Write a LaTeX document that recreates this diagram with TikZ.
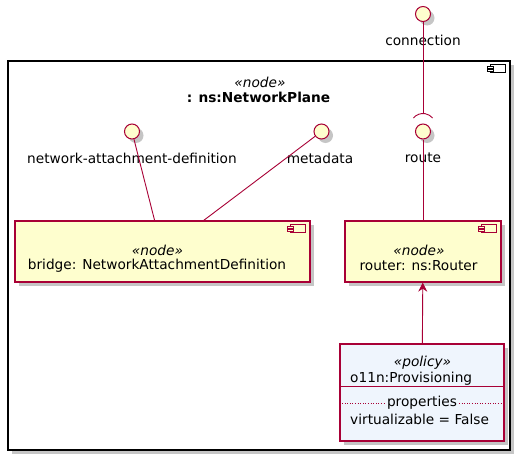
\documentclass[tikz,border=0pt]{standalone}
\usepackage{fontspec}
\setmainfont{DejaVu Sans}
\usetikzlibrary{calc,shadows,arrows.meta}
\definecolor{umlred}{HTML}{A80036}
\definecolor{umlyellow}{HTML}{FEFECE}
\definecolor{umlblue}{HTML}{EFF5FD}
% component icon, hooked to the top right corner of a box
\def\compicon[#1](#2){%
  \draw[#1] ($(#2)+(-20,4)$) rectangle ($(#2)+(-5,12)$);
  \draw[#1] ($(#2)+(-23,6)$) rectangle ($(#2)+(-17,8)$);
  \draw[#1] ($(#2)+(-23,9)$) rectangle ($(#2)+(-17,11)$);}

\begin{document}
\begin{tikzpicture}[x=1pt, y=-1pt,
    shade/.style={drop shadow={shadow xshift=4pt, shadow yshift=-4pt, opacity=.45}},
    iface/.style={circle, draw=umlred, fill=umlyellow, line width=1pt, minimum size=15pt, inner sep=0pt, shade},
    comp/.style={rectangle, draw=umlred, fill=umlyellow, line width=1.3pt, minimum height=61pt, inner sep=0pt, shade},
    lbl/.style={font=\fontsize{13.7}{16}\selectfont, inner sep=0pt},
    stereo/.style={font=\fontsize{13.7}{16}\selectfont\itshape, inner sep=0pt},
    link/.style={umlred, line width=0.9pt}]
  \useasboundingbox (0,0) rectangle (525,463);
  %%%%% START %%%%%
  % outer frame
  \node[rectangle, draw=black, fill=white, line width=1.3pt, minimum width=502pt, minimum height=389pt, inner sep=0pt, shade] (plane) at (259,255.5) {};
  \compicon[black, fill=white, line width=0.8pt](plane.north east);
  \node[stereo] (planest) at (260,82) {«node»};
  \node[lbl, font=\fontsize{13.7}{16}\selectfont\bfseries] (planename) at (258.5,97.5) {: ns:NetworkPlane};

  % interfaces
  \node[iface] (conn) at (423,14) {};
  \node[lbl] (connlbl) at (423,40) {connection};
  \node[iface] (route) at (423,131.5) {};
  \node[lbl] (routelbl) at (423,158) {route};
  \node[iface] (nad) at (132,131.5) {};
  \node[lbl] (nadlbl) at (132,158) {network-attachment-definition};
  \node[iface] (meta) at (321.5,131.5) {};
  \node[lbl] (metalbl) at (320,158) {metadata};

  % components
  \node[comp, minimum width=295pt] (bridge) at (162.5,251.5) {};
  \compicon[umlred, fill=umlyellow, line width=0.8pt](bridge.north east);
  \node[stereo] (bridgest) at (157.5,250) {«node»};
  \node[lbl] (bridgename) at (157,266) {bridge: NetworkAttachmentDefinition};
  \node[comp, minimum width=156pt] (router) at (423,251.5) {};
  \compicon[umlred, fill=umlyellow, line width=0.8pt](router.north east);
  \node[stereo] (routerst) at (419,250) {«node»};
  \node[lbl] (routername) at (418.5,266) {router: ns:Router};

  % policy
  \node[comp, fill=umlblue, minimum width=164pt, minimum height=97pt] (policy) at (422,392.5) {};
  \draw[link, line width=1pt] (policy.west |- 0,386.5) -- (policy.east |- 0,386.5);
  \draw[umlred, dotted, line width=0.6pt] (policy.west |- 0,403) -- (policy.east |- 0,403);
  \node[stereo] (policyst) at (422.5,363) {«policy»};
  \node[lbl, anchor=west] (policyname) at (350,379) {o11n:Provisioning};
  \node[lbl, fill=umlblue, inner xsep=1pt] (props) at (422,403) {properties};
  \node[lbl, anchor=west] (virt) at (350,419.5) {virtualizable = False};

  % links
  \coordinate (sock) at (423,113.5);
  \draw[link] (conn) -- (sock);
  \draw[link] ($(423,126)+(220:12.5)$) arc (220:320:12.5);
  \draw[link] (route) -- (router);
  \draw[link] (nad) -- (bridge);
  \draw[link] (meta) -- (bridge);
  \draw[link, -{Stealth[length=9pt, width=9pt, inset=3pt]}] (policy) -- (router);
  %%%%% END %%%%%
\end{tikzpicture}
\end{document}
